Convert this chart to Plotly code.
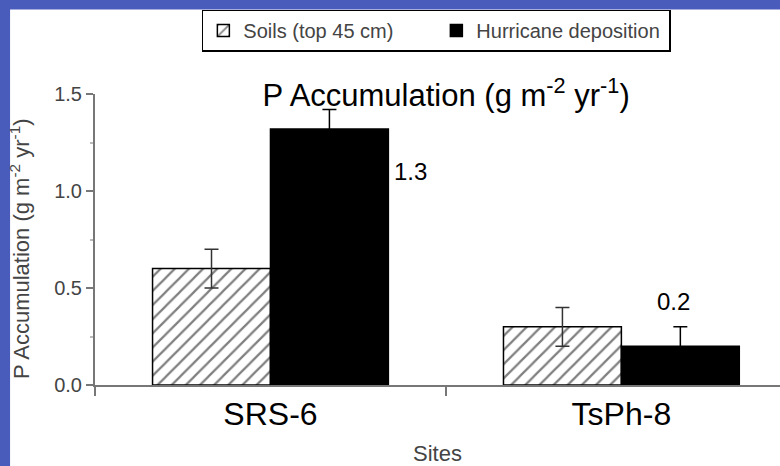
import plotly.graph_objects as go

sites = ["SRS-6", "TsPh-8"]
soils = [0.60, 0.30]
soils_err = [0.10, 0.10]
hurricane = [1.32, 0.20]
hurricane_err = [0.10, 0.10]
hurricane_labels = ["1.3", "0.2"]
y_ticks = [0.0, 0.5, 1.0, 1.5]

FONT = "Arial, Liberation Sans, Helvetica, sans-serif"
Y_TITLE = "P Accumulation (g m<sup>-2</sup> yr<sup>-1</sup>)"

fig = go.Figure()
fig.add_trace(go.Bar(
    x=sites, y=soils, name="Soils (top 45 cm)",
    marker=dict(color="white", line=dict(color="black", width=1.5),
                pattern=dict(shape="/", fgcolor="black", bgcolor="white", size=10, solidity=0.22)),
    error_y=dict(type="data", array=soils_err, color="#333333", thickness=1.5, width=7),
))
fig.add_trace(go.Bar(
    x=sites, y=hurricane, name="Hurricane deposition",
    marker=dict(color="black", line=dict(color="black", width=1.5)),
    error_y=dict(type="data", array=hurricane_err, color="#000000", thickness=1.5, width=7),
))

# value labels next to / above the hurricane bars
fig.add_annotation(x=0.336, y=1.10, text=hurricane_labels[0], showarrow=False,
                   xanchor="left", yanchor="middle", xshift=4,
                   font=dict(size=24, color="black", family=FONT))
fig.add_annotation(x=1.168, y=hurricane[1] + hurricane_err[1], text=hurricane_labels[1],
                   showarrow=False, xanchor="center", yanchor="bottom", yshift=10, xshift=-7,
                   font=dict(size=24, color="black", family=FONT))

# white slide area over the blue background
fig.add_shape(type="rect", xref="paper", yref="paper", x0=-0.124, x1=1.6, y0=-1.0, y1=1.29,
              fillcolor="white", line=dict(width=0), layer="below")

fig.update_layout(
    width=780, height=466,
    margin=dict(l=95, r=0, t=94, b=81, autoexpand=False),
    paper_bgcolor="#4a5cbb",
    plot_bgcolor="white",
    barmode="group", bargap=0.328, bargroupgap=0,
    font=dict(family=FONT, color="#333333"),
    title=dict(text="P Accumulation (g m<sup>-2</sup> yr<sup>-1</sup>)",
               x=0.572, xanchor="center", y=0.796, yanchor="middle",
               font=dict(size=31, color="black", family=FONT)),
    legend=dict(orientation="h", x=0.156, xanchor="left", y=1.29, yanchor="top",
                bgcolor="white", bordercolor="black", borderwidth=1.5,
                itemwidth=30, entrywidth=188,
                font=dict(size=20, color="#444444", family=FONT)),
    showlegend=True,
    xaxis=dict(type="category", range=[-0.5, 1.452], tickson="boundaries",
               ticks="outside", ticklen=9, tickcolor="#777777", tickwidth=2,
               showline=True, linecolor="#777777", linewidth=2,
               tickfont=dict(size=32, color="black", family=FONT),
               title=dict(text="Sites", font=dict(size=22, color="#444444", family=FONT), standoff=24),
               automargin=False,
               showgrid=False, zeroline=False, fixedrange=True),
    yaxis=dict(range=[0, 1.5], tickvals=y_ticks, tickformat=".1f",
               ticks="outside", ticklen=7, tickcolor="#777777", tickwidth=2,
               showline=True, linecolor="#777777", linewidth=2,
               minor=dict(dtick=0.25, ticks="outside", ticklen=3, tickcolor="#bbbbbb"),
               tickfont=dict(size=20, color="#444444", family=FONT),
               title=dict(text=Y_TITLE + "&nbsp;&nbsp;&nbsp;",
                          font=dict(size=22, color="#444444", family=FONT), standoff=18),
               automargin=False,
               showgrid=False, zeroline=False, fixedrange=True),
)

fig.write_html(
    "out.html",
    config={"displayModeBar": False},
    post_script="document.body.style.margin='0';document.body.style.overflow='hidden';",
)
